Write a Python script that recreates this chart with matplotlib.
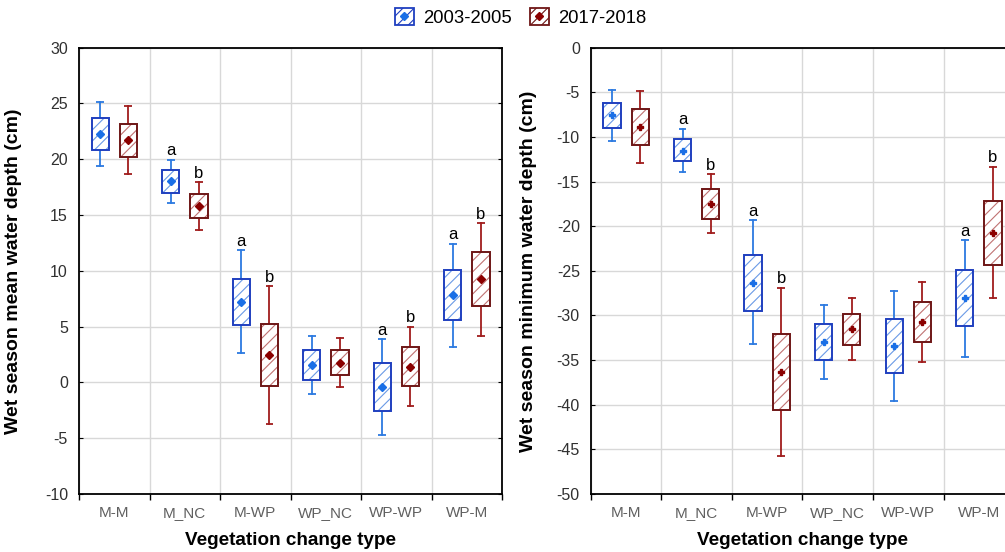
import numpy as np
import matplotlib.pyplot as plt
from matplotlib.patches import Rectangle
from matplotlib.lines import Line2D

plt.rcParams['font.family'] = ['Liberation Sans', 'DejaVu Sans']
plt.rcParams['hatch.linewidth'] = 0.8
plt.rcParams['axes.unicode_minus'] = False

types = ['M-M', 'M_NC', 'M-WP', 'WP_NC', 'WP-WP', 'WP-M']
periods = ['2003-2005', '2017-2018']

# wet season mean water depth (cm): mean, box (lo/hi), whiskers (lo/hi)
mean_avg_a = [22.27, 18.03, 7.19, 1.55, -0.42, 7.82]
mean_box_lo_a = [20.84, 17.01, 5.16, 0.24, -2.57, 5.55]
mean_box_hi_a = [23.67, 19.01, 9.31, 2.87, 1.70, 10.06]
mean_wsk_lo_a = [19.43, 16.06, 2.60, -1.07, -4.72, 3.13]
mean_wsk_hi_a = [25.16, 19.97, 11.85, 4.18, 3.88, 12.45]

mean_avg_b = [21.70, 15.85, 2.48, 1.76, 1.40, 9.25]
mean_box_lo_b = [20.21, 14.72, -0.33, 0.63, -0.36, 6.81]
mean_box_hi_b = [23.19, 16.93, 5.22, 2.87, 3.13, 11.67]
mean_wsk_lo_b = [18.69, 13.67, -3.70, -0.45, -2.15, 4.18]
mean_wsk_hi_b = [24.75, 17.97, 8.60, 3.97, 5.01, 14.27]

# wet season minimum water depth (cm)
min_avg_a = [-7.57, -11.53, -26.38, -32.99, -33.44, -28.06]
min_box_lo_a = [-9.03, -12.69, -29.48, -35.01, -36.47, -31.20]
min_box_hi_a = [-6.16, -10.26, -23.25, -30.93, -30.41, -24.93]
min_wsk_lo_a = [-10.45, -13.92, -33.25, -37.07, -39.57, -34.60]
min_wsk_hi_a = [-4.78, -9.07, -19.33, -28.84, -27.23, -21.57]

min_avg_b = [-8.88, -17.50, -36.36, -31.57, -30.71, -20.75]
min_box_lo_b = [-10.93, -19.18, -40.58, -33.29, -32.92, -24.33]
min_box_hi_b = [-6.87, -15.82, -32.06, -29.81, -28.47, -17.20]
min_wsk_lo_b = [-12.95, -20.78, -45.78, -35.01, -35.16, -28.09]
min_wsk_hi_b = [-4.85, -14.14, -26.87, -28.09, -26.27, -13.32]

mean_letters_a = ['', 'a', 'a', '', 'a', 'a']
mean_letters_b = ['', 'b', 'b', '', 'b', 'b']
min_letters_a = ['', 'a', 'a', '', '', 'a']
min_letters_b = ['', 'b', 'b', '', '', 'b']

box_col = ['#1f3fbf', '#6e1616']
wsk_col = ['#2c7ae0', '#a01c1c']
hatch_col = ['#6a9ae6', '#c07272']
dot_col = ['#1a6fe6', '#8b0000']
offsets = [-0.2, 0.2]
box_w = 0.245
cap_w = 0.11


def draw_panel(ax, series, letters, marker, msize):
    for k in range(2):
        avg, blo, bhi, wlo, whi = series[k]
        for i in range(len(types)):
            x = i + 0.5 + offsets[k]
            ax.add_patch(Rectangle((x - box_w / 2, blo[i]), box_w, bhi[i] - blo[i],
                                   facecolor='white', edgecolor=hatch_col[k],
                                   hatch='///', linewidth=0, zorder=3))
            ax.add_patch(Rectangle((x - box_w / 2, blo[i]), box_w, bhi[i] - blo[i],
                                   facecolor='none', edgecolor=box_col[k],
                                   linewidth=1.4, zorder=4))
            ax.plot([x, x], [bhi[i], whi[i]], color=wsk_col[k], lw=1.3, zorder=2)
            ax.plot([x, x], [blo[i], wlo[i]], color=wsk_col[k], lw=1.3, zorder=2)
            ax.hlines([wlo[i], whi[i]], x - cap_w / 2, x + cap_w / 2,
                      color=wsk_col[k], lw=1.3, zorder=2)
            ax.plot(x, avg[i], marker=marker, ms=msize, color=dot_col[k],
                    mec=dot_col[k], zorder=5)
            if letters[k][i]:
                ax.annotate(letters[k][i], (x, whi[i]), xytext=(0, 1),
                            textcoords='offset points', ha='center', va='bottom',
                            fontsize=12, zorder=6)


def style_axes(ax, ylim, ystep, ylabel, ylab_x):
    ax.set_xlim(0, len(types))
    ax.set_ylim(*ylim)
    ax.set_yticks(np.arange(ylim[0], ylim[1] + 0.1, ystep))
    ax.set_xticks(np.arange(len(types) + 1))
    ax.set_xticklabels([])
    ax.set_xticks(np.arange(len(types)) + 0.5, minor=True)
    ax.set_xticklabels(types, minor=True, color='#606060', fontsize=11)
    ax.tick_params(axis='x', which='major', direction='out', length=4, width=1)
    ax.tick_params(axis='x', which='minor', length=0, pad=9)
    ax.tick_params(axis='y', which='major', left=True, right=True, length=3,
                   direction='in', labelsize=11.5, labelcolor='#303030', pad=8)
    ax.grid(True, which='major', color='#d8d8d8', lw=1, zorder=0)
    ax.set_axisbelow(True)
    for s in ax.spines.values():
        s.set_linewidth(1.3)
    ax.set_ylabel(ylabel, fontsize=14, fontweight='bold')
    ax.yaxis.set_label_coords(ylab_x, 0.5)
    ax.set_xlabel('Vegetation change type', fontsize=13.6, fontweight='bold')
    ax.xaxis.set_label_coords(0.5, -0.085)


fig = plt.figure(figsize=(10.05, 5.52), dpi=100)
ax1 = fig.add_axes([0.0786, 0.1051, 0.421, 0.8085])
ax2 = fig.add_axes([0.588, 0.1051, 0.421, 0.8085])

draw_panel(ax1,
           [(mean_avg_a, mean_box_lo_a, mean_box_hi_a, mean_wsk_lo_a, mean_wsk_hi_a),
            (mean_avg_b, mean_box_lo_b, mean_box_hi_b, mean_wsk_lo_b, mean_wsk_hi_b)],
           [mean_letters_a, mean_letters_b], 'D', 4.5)
draw_panel(ax2,
           [(min_avg_a, min_box_lo_a, min_box_hi_a, min_wsk_lo_a, min_wsk_hi_a),
            (min_avg_b, min_box_lo_b, min_box_hi_b, min_wsk_lo_b, min_wsk_hi_b)],
           [min_letters_a, min_letters_b], 'P', 4)

style_axes(ax1, (-10, 30), 5, 'Wet season mean water depth (cm)', -0.135)
style_axes(ax2, (-50, 0), 5, 'Wet season minimum water depth (cm)', -0.128)

handles = []
for k in range(2):
    patch = Rectangle((0, 0), 1, 1, facecolor='white', edgecolor=box_col[k],
                      hatch='///', linewidth=1.3)
    dot = Line2D([], [], marker='D', ms=4.5, color=dot_col[k], ls='none')
    handles.append((patch, dot))
fig.legend(handles, periods, loc='center', bbox_to_anchor=(0.518, 0.968),
           ncol=2, frameon=False, fontsize=13.3, handlelength=1.0,
           handleheight=1.0, handletextpad=0.5, columnspacing=1.0)

fig.savefig('out.png', dpi=100)
